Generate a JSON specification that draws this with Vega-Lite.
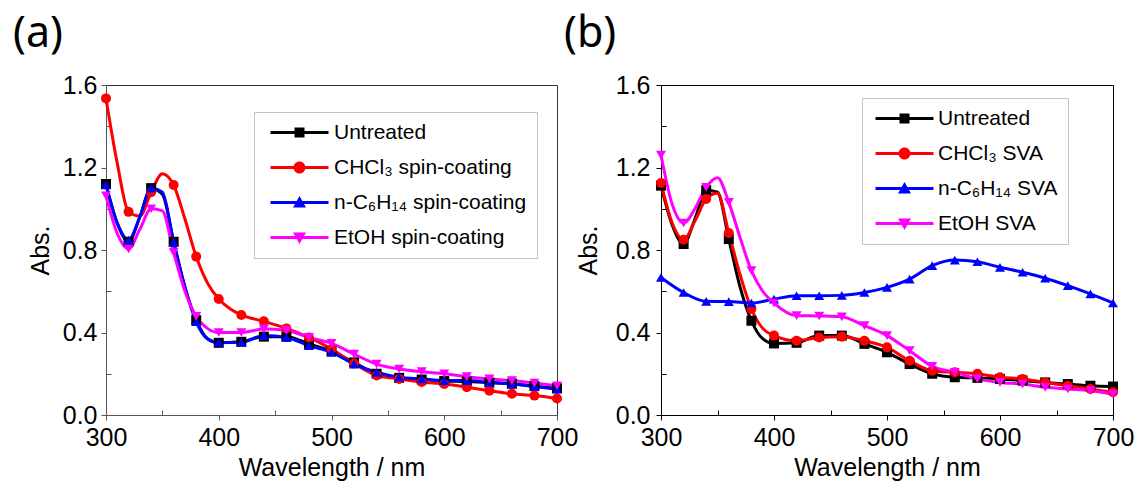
{
  "$schema": "https://vega.github.io/schema/vega-lite/v6.json",
  "background": "white",
  "padding": {"left": 12, "top": 12, "right": 4, "bottom": 2},
  "bounds": "flush",
  "spacing": 104,
  "config": {
    "axis": {"labelFont": "Arial, Liberation Sans, sans-serif", "labelFontSize": 25, "titleFont": "Arial, Liberation Sans, sans-serif", "titleFontSize": 25, "titleFontWeight": "normal", "labelColor": "#000", "titleColor": "#000", "grid": false, "tickWidth": 1, "domainWidth": 1, "labelOverlap": false, "labelFlush": false},
    "legend": {"labelFont": "Arial, Liberation Sans, sans-serif", "labelFontSize": 21, "labelColor": "#000", "labelLimit": 400, "symbolSize": 100, "symbolStrokeWidth": 0, "symbolOpacity": 1, "rowPadding": 13, "padding": 10, "strokeColor": "#c4c4c4", "fillColor": "white"}
  },
  "datasets": {
    "a": [
      {"s": "Untreated", "wl": 300, "a": 1.12}, {"s": "Untreated", "wl": 310, "a": 0.93}, {"s": "Untreated", "wl": 320, "a": 0.84}, {"s": "Untreated", "wl": 330, "a": 0.96}, {"s": "Untreated", "wl": 340, "a": 1.1}, {"s": "Untreated", "wl": 350, "a": 1.07}, {"s": "Untreated", "wl": 360, "a": 0.84}, {"s": "Untreated", "wl": 370, "a": 0.62}, {"s": "Untreated", "wl": 380, "a": 0.46}, {"s": "Untreated", "wl": 390, "a": 0.37}, {"s": "Untreated", "wl": 400, "a": 0.35}, {"s": "Untreated", "wl": 420, "a": 0.355}, {"s": "Untreated", "wl": 440, "a": 0.38}, {"s": "Untreated", "wl": 460, "a": 0.38}, {"s": "Untreated", "wl": 480, "a": 0.345}, {"s": "Untreated", "wl": 500, "a": 0.31}, {"s": "Untreated", "wl": 520, "a": 0.255}, {"s": "Untreated", "wl": 540, "a": 0.2}, {"s": "Untreated", "wl": 560, "a": 0.18}, {"s": "Untreated", "wl": 580, "a": 0.172}, {"s": "Untreated", "wl": 600, "a": 0.165}, {"s": "Untreated", "wl": 620, "a": 0.162}, {"s": "Untreated", "wl": 640, "a": 0.157}, {"s": "Untreated", "wl": 660, "a": 0.152}, {"s": "Untreated", "wl": 680, "a": 0.14}, {"s": "Untreated", "wl": 700, "a": 0.13},
      {"s": "CHCl₃ spin-coating", "wl": 300, "a": 1.535}, {"s": "CHCl₃ spin-coating", "wl": 310, "a": 1.22}, {"s": "CHCl₃ spin-coating", "wl": 320, "a": 0.985}, {"s": "CHCl₃ spin-coating", "wl": 330, "a": 0.965}, {"s": "CHCl₃ spin-coating", "wl": 340, "a": 1.08}, {"s": "CHCl₃ spin-coating", "wl": 350, "a": 1.17}, {"s": "CHCl₃ spin-coating", "wl": 360, "a": 1.115}, {"s": "CHCl₃ spin-coating", "wl": 370, "a": 0.95}, {"s": "CHCl₃ spin-coating", "wl": 380, "a": 0.768}, {"s": "CHCl₃ spin-coating", "wl": 390, "a": 0.64}, {"s": "CHCl₃ spin-coating", "wl": 400, "a": 0.562}, {"s": "CHCl₃ spin-coating", "wl": 410, "a": 0.515}, {"s": "CHCl₃ spin-coating", "wl": 420, "a": 0.485}, {"s": "CHCl₃ spin-coating", "wl": 440, "a": 0.454}, {"s": "CHCl₃ spin-coating", "wl": 460, "a": 0.42}, {"s": "CHCl₃ spin-coating", "wl": 480, "a": 0.376}, {"s": "CHCl₃ spin-coating", "wl": 500, "a": 0.32}, {"s": "CHCl₃ spin-coating", "wl": 520, "a": 0.25}, {"s": "CHCl₃ spin-coating", "wl": 540, "a": 0.192}, {"s": "CHCl₃ spin-coating", "wl": 560, "a": 0.175}, {"s": "CHCl₃ spin-coating", "wl": 580, "a": 0.16}, {"s": "CHCl₃ spin-coating", "wl": 600, "a": 0.15}, {"s": "CHCl₃ spin-coating", "wl": 620, "a": 0.135}, {"s": "CHCl₃ spin-coating", "wl": 640, "a": 0.118}, {"s": "CHCl₃ spin-coating", "wl": 660, "a": 0.103}, {"s": "CHCl₃ spin-coating", "wl": 680, "a": 0.094}, {"s": "CHCl₃ spin-coating", "wl": 700, "a": 0.08},
      {"s": "n-C₆H₁₄ spin-coating", "wl": 300, "a": 1.115}, {"s": "n-C₆H₁₄ spin-coating", "wl": 310, "a": 0.93}, {"s": "n-C₆H₁₄ spin-coating", "wl": 320, "a": 0.848}, {"s": "n-C₆H₁₄ spin-coating", "wl": 330, "a": 0.96}, {"s": "n-C₆H₁₄ spin-coating", "wl": 340, "a": 1.1}, {"s": "n-C₆H₁₄ spin-coating", "wl": 350, "a": 1.08}, {"s": "n-C₆H₁₄ spin-coating", "wl": 360, "a": 0.837}, {"s": "n-C₆H₁₄ spin-coating", "wl": 370, "a": 0.62}, {"s": "n-C₆H₁₄ spin-coating", "wl": 380, "a": 0.452}, {"s": "n-C₆H₁₄ spin-coating", "wl": 390, "a": 0.37}, {"s": "n-C₆H₁₄ spin-coating", "wl": 400, "a": 0.352}, {"s": "n-C₆H₁₄ spin-coating", "wl": 420, "a": 0.353}, {"s": "n-C₆H₁₄ spin-coating", "wl": 440, "a": 0.385}, {"s": "n-C₆H₁₄ spin-coating", "wl": 460, "a": 0.376}, {"s": "n-C₆H₁₄ spin-coating", "wl": 480, "a": 0.336}, {"s": "n-C₆H₁₄ spin-coating", "wl": 500, "a": 0.304}, {"s": "n-C₆H₁₄ spin-coating", "wl": 520, "a": 0.247}, {"s": "n-C₆H₁₄ spin-coating", "wl": 540, "a": 0.207}, {"s": "n-C₆H₁₄ spin-coating", "wl": 560, "a": 0.183}, {"s": "n-C₆H₁₄ spin-coating", "wl": 580, "a": 0.175}, {"s": "n-C₆H₁₄ spin-coating", "wl": 600, "a": 0.167}, {"s": "n-C₆H₁₄ spin-coating", "wl": 620, "a": 0.167}, {"s": "n-C₆H₁₄ spin-coating", "wl": 640, "a": 0.158}, {"s": "n-C₆H₁₄ spin-coating", "wl": 660, "a": 0.15}, {"s": "n-C₆H₁₄ spin-coating", "wl": 680, "a": 0.138}, {"s": "n-C₆H₁₄ spin-coating", "wl": 700, "a": 0.125},
      {"s": "EtOH spin-coating", "wl": 300, "a": 1.063}, {"s": "EtOH spin-coating", "wl": 310, "a": 0.88}, {"s": "EtOH spin-coating", "wl": 320, "a": 0.805}, {"s": "EtOH spin-coating", "wl": 330, "a": 0.9}, {"s": "EtOH spin-coating", "wl": 340, "a": 1.0}, {"s": "EtOH spin-coating", "wl": 350, "a": 0.99}, {"s": "EtOH spin-coating", "wl": 360, "a": 0.788}, {"s": "EtOH spin-coating", "wl": 370, "a": 0.6}, {"s": "EtOH spin-coating", "wl": 380, "a": 0.478}, {"s": "EtOH spin-coating", "wl": 390, "a": 0.42}, {"s": "EtOH spin-coating", "wl": 400, "a": 0.4}, {"s": "EtOH spin-coating", "wl": 420, "a": 0.4}, {"s": "EtOH spin-coating", "wl": 440, "a": 0.417}, {"s": "EtOH spin-coating", "wl": 460, "a": 0.41}, {"s": "EtOH spin-coating", "wl": 480, "a": 0.376}, {"s": "EtOH spin-coating", "wl": 500, "a": 0.347}, {"s": "EtOH spin-coating", "wl": 520, "a": 0.295}, {"s": "EtOH spin-coating", "wl": 540, "a": 0.247}, {"s": "EtOH spin-coating", "wl": 560, "a": 0.223}, {"s": "EtOH spin-coating", "wl": 580, "a": 0.21}, {"s": "EtOH spin-coating", "wl": 600, "a": 0.2}, {"s": "EtOH spin-coating", "wl": 620, "a": 0.186}, {"s": "EtOH spin-coating", "wl": 640, "a": 0.175}, {"s": "EtOH spin-coating", "wl": 660, "a": 0.167}, {"s": "EtOH spin-coating", "wl": 680, "a": 0.155}, {"s": "EtOH spin-coating", "wl": 700, "a": 0.142}
    ],
    "b": [
      {"s": "Untreated", "wl": 300, "a": 1.112}, {"s": "Untreated", "wl": 310, "a": 0.92}, {"s": "Untreated", "wl": 320, "a": 0.829}, {"s": "Untreated", "wl": 330, "a": 0.95}, {"s": "Untreated", "wl": 340, "a": 1.09}, {"s": "Untreated", "wl": 350, "a": 1.08}, {"s": "Untreated", "wl": 360, "a": 0.853}, {"s": "Untreated", "wl": 370, "a": 0.62}, {"s": "Untreated", "wl": 380, "a": 0.457}, {"s": "Untreated", "wl": 390, "a": 0.37}, {"s": "Untreated", "wl": 400, "a": 0.347}, {"s": "Untreated", "wl": 420, "a": 0.35}, {"s": "Untreated", "wl": 440, "a": 0.385}, {"s": "Untreated", "wl": 460, "a": 0.385}, {"s": "Untreated", "wl": 480, "a": 0.345}, {"s": "Untreated", "wl": 500, "a": 0.304}, {"s": "Untreated", "wl": 520, "a": 0.247}, {"s": "Untreated", "wl": 540, "a": 0.2}, {"s": "Untreated", "wl": 560, "a": 0.183}, {"s": "Untreated", "wl": 580, "a": 0.18}, {"s": "Untreated", "wl": 600, "a": 0.175}, {"s": "Untreated", "wl": 620, "a": 0.167}, {"s": "Untreated", "wl": 640, "a": 0.158}, {"s": "Untreated", "wl": 660, "a": 0.15}, {"s": "Untreated", "wl": 680, "a": 0.142}, {"s": "Untreated", "wl": 700, "a": 0.138},
      {"s": "CHCl₃ SVA", "wl": 300, "a": 1.125}, {"s": "CHCl₃ SVA", "wl": 310, "a": 0.93}, {"s": "CHCl₃ SVA", "wl": 320, "a": 0.85}, {"s": "CHCl₃ SVA", "wl": 330, "a": 0.94}, {"s": "CHCl₃ SVA", "wl": 340, "a": 1.047}, {"s": "CHCl₃ SVA", "wl": 350, "a": 1.075}, {"s": "CHCl₃ SVA", "wl": 360, "a": 0.882}, {"s": "CHCl₃ SVA", "wl": 370, "a": 0.68}, {"s": "CHCl₃ SVA", "wl": 380, "a": 0.514}, {"s": "CHCl₃ SVA", "wl": 390, "a": 0.42}, {"s": "CHCl₃ SVA", "wl": 400, "a": 0.385}, {"s": "CHCl₃ SVA", "wl": 420, "a": 0.36}, {"s": "CHCl₃ SVA", "wl": 440, "a": 0.376}, {"s": "CHCl₃ SVA", "wl": 460, "a": 0.38}, {"s": "CHCl₃ SVA", "wl": 480, "a": 0.36}, {"s": "CHCl₃ SVA", "wl": 500, "a": 0.328}, {"s": "CHCl₃ SVA", "wl": 520, "a": 0.263}, {"s": "CHCl₃ SVA", "wl": 540, "a": 0.215}, {"s": "CHCl₃ SVA", "wl": 560, "a": 0.207}, {"s": "CHCl₃ SVA", "wl": 580, "a": 0.2}, {"s": "CHCl₃ SVA", "wl": 600, "a": 0.183}, {"s": "CHCl₃ SVA", "wl": 620, "a": 0.175}, {"s": "CHCl₃ SVA", "wl": 640, "a": 0.158}, {"s": "CHCl₃ SVA", "wl": 660, "a": 0.142}, {"s": "CHCl₃ SVA", "wl": 680, "a": 0.126}, {"s": "CHCl₃ SVA", "wl": 700, "a": 0.11},
      {"s": "n-C₆H₁₄ SVA", "wl": 300, "a": 0.667}, {"s": "n-C₆H₁₄ SVA", "wl": 320, "a": 0.594}, {"s": "n-C₆H₁₄ SVA", "wl": 340, "a": 0.551}, {"s": "n-C₆H₁₄ SVA", "wl": 360, "a": 0.55}, {"s": "n-C₆H₁₄ SVA", "wl": 380, "a": 0.543}, {"s": "n-C₆H₁₄ SVA", "wl": 400, "a": 0.562}, {"s": "n-C₆H₁₄ SVA", "wl": 420, "a": 0.578}, {"s": "n-C₆H₁₄ SVA", "wl": 440, "a": 0.578}, {"s": "n-C₆H₁₄ SVA", "wl": 460, "a": 0.58}, {"s": "n-C₆H₁₄ SVA", "wl": 480, "a": 0.594}, {"s": "n-C₆H₁₄ SVA", "wl": 500, "a": 0.619}, {"s": "n-C₆H₁₄ SVA", "wl": 520, "a": 0.659}, {"s": "n-C₆H₁₄ SVA", "wl": 540, "a": 0.724}, {"s": "n-C₆H₁₄ SVA", "wl": 560, "a": 0.751}, {"s": "n-C₆H₁₄ SVA", "wl": 580, "a": 0.743}, {"s": "n-C₆H₁₄ SVA", "wl": 600, "a": 0.716}, {"s": "n-C₆H₁₄ SVA", "wl": 620, "a": 0.692}, {"s": "n-C₆H₁₄ SVA", "wl": 640, "a": 0.663}, {"s": "n-C₆H₁₄ SVA", "wl": 660, "a": 0.627}, {"s": "n-C₆H₁₄ SVA", "wl": 680, "a": 0.587}, {"s": "n-C₆H₁₄ SVA", "wl": 700, "a": 0.543},
      {"s": "EtOH SVA", "wl": 300, "a": 1.26}, {"s": "EtOH SVA", "wl": 310, "a": 1.02}, {"s": "EtOH SVA", "wl": 320, "a": 0.931}, {"s": "EtOH SVA", "wl": 330, "a": 1.0}, {"s": "EtOH SVA", "wl": 340, "a": 1.104}, {"s": "EtOH SVA", "wl": 350, "a": 1.15}, {"s": "EtOH SVA", "wl": 360, "a": 1.031}, {"s": "EtOH SVA", "wl": 370, "a": 0.86}, {"s": "EtOH SVA", "wl": 380, "a": 0.7}, {"s": "EtOH SVA", "wl": 390, "a": 0.6}, {"s": "EtOH SVA", "wl": 400, "a": 0.543}, {"s": "EtOH SVA", "wl": 420, "a": 0.482}, {"s": "EtOH SVA", "wl": 440, "a": 0.48}, {"s": "EtOH SVA", "wl": 460, "a": 0.476}, {"s": "EtOH SVA", "wl": 480, "a": 0.433}, {"s": "EtOH SVA", "wl": 500, "a": 0.385}, {"s": "EtOH SVA", "wl": 520, "a": 0.312}, {"s": "EtOH SVA", "wl": 540, "a": 0.236}, {"s": "EtOH SVA", "wl": 560, "a": 0.207}, {"s": "EtOH SVA", "wl": 580, "a": 0.175}, {"s": "EtOH SVA", "wl": 600, "a": 0.158}, {"s": "EtOH SVA", "wl": 620, "a": 0.15}, {"s": "EtOH SVA", "wl": 640, "a": 0.134}, {"s": "EtOH SVA", "wl": 660, "a": 0.126}, {"s": "EtOH SVA", "wl": 680, "a": 0.118}, {"s": "EtOH SVA", "wl": 700, "a": 0.102}
    ]
  },
  "hconcat": [
    {
      "width": 451, "height": 330,
      "title": {"text": "(a)", "anchor": "start", "frame": "group", "dx": -93, "fontSize": 43, "font": "Noto Sans", "fontWeight": "normal", "color": "#000", "offset": 17},
      "data": {"name": "a"},
      "view": {"stroke": "#333", "strokeWidth": 1},
      "encoding": {
        "x": {"field": "wl", "type": "quantitative", "title": "Wavelength / nm", "scale": {"domain": [300, 700], "nice": false, "zero": false},
          "axis": {"values": [300, 350, 400, 450, 500, 550, 600, 650, 700], "labelExpr": "datum.value % 100 == 0 ? datum.label : ''", "tickSize": {"condition": {"test": "datum.value % 100 != 0", "value": -5}, "value": 5}, "labelPadding": 5, "titlePadding": 5, "domainColor": "#555", "tickColor": "#555"}},
        "y": {"field": "a", "type": "quantitative", "title": "Abs.", "scale": {"domain": [0, 1.6], "nice": false},
          "axis": {"values": [0, 0.2, 0.4, 0.6, 0.8, 1.0, 1.2, 1.4, 1.6], "format": ".1f", "labelExpr": "round(datum.value * 10) % 4 == 0 ? datum.label : ''", "tickSize": {"condition": {"test": "round(datum.value * 10) % 4 != 0", "value": -5}, "value": 5}, "labelPadding": 4, "titlePadding": 9, "domainColor": "#555", "tickColor": "#555"}},
        "color": {"field": "s", "type": "nominal", "scale": {"domain": ["Untreated", "CHCl₃ spin-coating", "n-C₆H₁₄ spin-coating", "EtOH spin-coating"], "range": ["#000000", "#ff0000", "#0000ff", "#ff00ff"]},
          "legend": {"title": null, "orient": "none", "legendX": 148, "legendY": 27, "symbolOffset": 25, "labelOffset": 24,
            "encoding": {"symbols": {
              "shape": {"value": {"expr": "indexof(datum.value,'Untreated')>=0 ? 'M-5.8,-0.3H5.8V0.3H-5.8Z M-1,-1H1V1H-1Z' : indexof(datum.value,'CHCl')>=0 ? 'M-5.8,-0.3H5.8V0.3H-5.8Z M-1.2,0A1.2,1.2 0 1,1 1.2,0A1.2,1.2 0 1,1 -1.2,0Z' : indexof(datum.value,'n-C')>=0 ? 'M-5.8,-0.3H5.8V0.3H-5.8Z M0,-1.3L1.3,1L-1.3,1Z' : 'M-5.8,-0.3H5.8V0.3H-5.8Z M0,1.3L-1.3,-1L1.3,-1Z'"}},
              "fill": {"value": {"expr": "indexof(datum.value,'Untreated')>=0 ? '#000000' : indexof(datum.value,'CHCl')>=0 ? '#ff0000' : indexof(datum.value,'n-C')>=0 ? '#0000ff' : '#ff00ff'"}},
              "fillOpacity": {"value": 1}, "opacity": {"value": 1}, "strokeWidth": {"value": 0}}}}}
      },
      "layer": [
        {"mark": {"type": "line", "interpolate": "monotone", "strokeWidth": 3}},
        {"transform": [{"filter": "datum.wl % 20 == 0"}],
          "mark": {"type": "point", "filled": true, "opacity": 1, "size": 100, "strokeWidth": 0},
          "encoding": {
            "shape": {"field": "s", "type": "nominal", "scale": {"domain": ["EtOH spin-coating", "n-C₆H₁₄ spin-coating", "CHCl₃ spin-coating", "Untreated"], "range": ["triangle-down", "triangle-up", "circle", "square"]}, "legend": null}
          }}
      ]
    },
    {
      "width": 452, "height": 330,
      "title": {"text": "(b)", "anchor": "start", "frame": "group", "dx": -97, "fontSize": 43, "font": "Noto Sans", "fontWeight": "normal", "color": "#000", "offset": 17},
      "data": {"name": "b"},
      "view": {"stroke": "#000", "strokeWidth": 1},
      "encoding": {
        "x": {"field": "wl", "type": "quantitative", "title": "Wavelength / nm", "scale": {"domain": [300, 700], "nice": false, "zero": false},
          "axis": {"values": [300, 350, 400, 450, 500, 550, 600, 650, 700], "labelExpr": "datum.value % 100 == 0 ? datum.label : ''", "tickSize": {"condition": {"test": "datum.value % 100 != 0", "value": -5}, "value": 5}, "labelPadding": 5, "titlePadding": 5, "domainColor": "#000", "tickColor": "#000"}},
        "y": {"field": "a", "type": "quantitative", "title": "Abs.", "scale": {"domain": [0, 1.6], "nice": false},
          "axis": {"values": [0, 0.2, 0.4, 0.6, 0.8, 1.0, 1.2, 1.4, 1.6], "format": ".1f", "labelExpr": "round(datum.value * 10) % 4 == 0 ? datum.label : ''", "tickSize": {"condition": {"test": "round(datum.value * 10) % 4 != 0", "value": -5}, "value": 5}, "labelPadding": 6, "titlePadding": 14, "domainColor": "#000", "tickColor": "#000"}},
        "color": {"field": "s", "type": "nominal", "scale": {"domain": ["Untreated", "CHCl₃ SVA", "n-C₆H₁₄ SVA", "EtOH SVA"], "range": ["#000000", "#ff0000", "#0000ff", "#ff00ff"]},
          "legend": {"title": null, "orient": "none", "legendX": 201, "legendY": 13, "symbolOffset": 22, "labelOffset": 23, "labelLimit": 135,
            "encoding": {"symbols": {
              "shape": {"value": {"expr": "indexof(datum.value,'Untreated')>=0 ? 'M-5.8,-0.3H5.8V0.3H-5.8Z M-1,-1H1V1H-1Z' : indexof(datum.value,'CHCl')>=0 ? 'M-5.8,-0.3H5.8V0.3H-5.8Z M-1.2,0A1.2,1.2 0 1,1 1.2,0A1.2,1.2 0 1,1 -1.2,0Z' : indexof(datum.value,'n-C')>=0 ? 'M-5.8,-0.3H5.8V0.3H-5.8Z M0,-1.3L1.3,1L-1.3,1Z' : 'M-5.8,-0.3H5.8V0.3H-5.8Z M0,1.3L-1.3,-1L1.3,-1Z'"}},
              "fill": {"value": {"expr": "indexof(datum.value,'Untreated')>=0 ? '#000000' : indexof(datum.value,'CHCl')>=0 ? '#ff0000' : indexof(datum.value,'n-C')>=0 ? '#0000ff' : '#ff00ff'"}},
              "fillOpacity": {"value": 1}, "opacity": {"value": 1}, "strokeWidth": {"value": 0}}}}}
      },
      "layer": [
        {"mark": {"type": "line", "interpolate": "monotone", "strokeWidth": 3}},
        {"transform": [{"filter": "datum.wl % 20 == 0"}],
          "mark": {"type": "point", "filled": true, "opacity": 1, "size": 100, "strokeWidth": 0},
          "encoding": {
            "shape": {"field": "s", "type": "nominal", "scale": {"domain": ["EtOH SVA", "n-C₆H₁₄ SVA", "CHCl₃ SVA", "Untreated"], "range": ["triangle-down", "triangle-up", "circle", "square"]}, "legend": null}
          }}
      ]
    }
  ],
  "resolve": {
    "scale": {"x": "independent", "y": "independent", "color": "independent", "shape": "independent"},
    "axis": {"x": "independent", "y": "independent"},
    "legend": {"color": "independent", "shape": "independent"}
  }
}
